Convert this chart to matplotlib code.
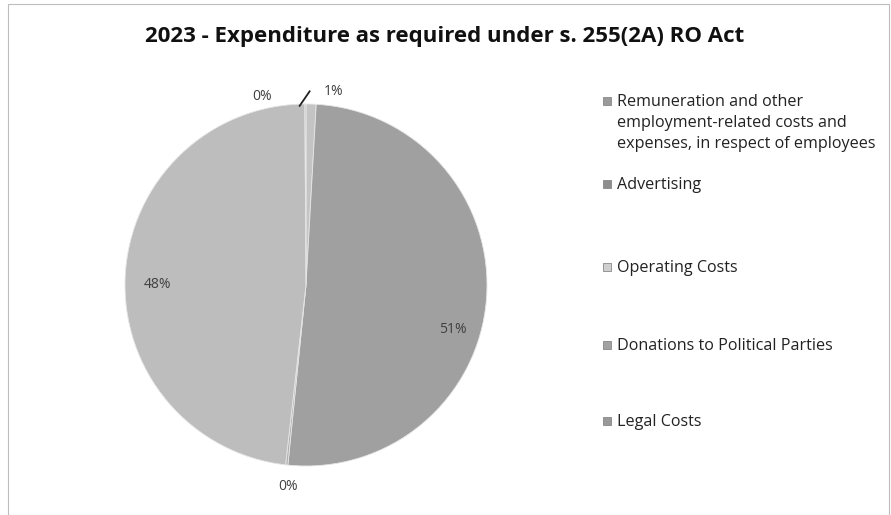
import matplotlib
matplotlib.use("Agg")
import matplotlib.pyplot as plt
from matplotlib.patches import Rectangle
import numpy as np

# ---- data ----
categories = [
    "Remuneration and other\nemployment-related costs and\nexpenses, in respect of employees",
    "Advertising",
    "Operating Costs",
    "Donations to Political Parties",
    "Legal Costs",
]
shares = [0.9, 50.7, 48.1, 0.2, 0.1]          # percent of total
pct_labels = ["1%", "51%", "48%", "0%", "0%"]
# clockwise drawing order of slices (starting at 12 o'clock)
draw_order = [0, 1, 3, 2, 4]
title = "2023 - Expenditure as required under s. 255(2A) RO Act"

# ---- style ----
slice_colors = ["#c4c4c4", "#a0a0a0", "#bdbdbd", "#b0b0b0", "#a8a8a8"]
marker_colors = ["#9a9a9a", "#8e8e8e", "#cfcfcf", "#a2a2a2", "#999999"]
label_pos = {  # (angle deg from 3 o'clock ccw, radius) for each category's percent label
    0: (82, 1.08),
    1: (-17, 0.85),
    2: (180, 0.82),
    3: (265, 1.12),
    4: (103, 1.07),
}

W, H = 891, 515
fig = plt.figure(figsize=(W / 100, H / 100), dpi=100)
fig.patch.set_facecolor("white")
plt.rcParams["font.family"] = ["Open Sans", "DejaVu Sans"]

# outer frame
fig.add_artist(Rectangle((8 / W, 0), (W - 10) / W, (H - 4) / H, transform=fig.transFigure,
                         fill=False, edgecolor="#bdbdbd", linewidth=0.8))

fig.text(445 / W, 1 - 36 / H, title, ha="center", va="center",
         fontsize=16, fontweight="bold", color="#111111")

cx, cy, r = 306, 285, 181
ax = fig.add_axes([(cx - r) / W, 1 - (cy + r) / H, 2 * r / W, 2 * r / H])

vals = [shares[i] for i in draw_order]
cols = [slice_colors[i] for i in draw_order]
ax.pie(vals, colors=cols, startangle=90, counterclock=False, radius=1,
       wedgeprops=dict(edgecolor="#e6e6e6", linewidth=0.6))
ax.set_xlim(-1, 1)
ax.set_ylim(-1, 1)
ax.axis("off")

for i, lab in enumerate(pct_labels):
    ang, rad = label_pos[i]
    x, y = rad * np.cos(np.radians(ang)), rad * np.sin(np.radians(ang))
    ax.text(x, y, lab, ha="center", va="center", fontsize=10, color="#404040", clip_on=False)

# leader line for the 1% slice (slanted, from rim up to label)
ax.plot([-0.035, 0.02], [0.99, 1.07], color="#222222", lw=1.3, clip_on=False)

# legend (drawn manually so the marker aligns with first line)
first_lines = [101, 184, 267, 345, 421]
for i, name in enumerate(categories):
    y = first_lines[i]
    fig.add_artist(Rectangle((603 / W, 1 - (y + 4) / H), 8 / W, 8 / H, transform=fig.transFigure,
                             facecolor=marker_colors[i], edgecolor="#888888", linewidth=0.6))
    fig.text(617 / W, 1 - (y - 7) / H, name, ha="left", va="top", fontsize=11.6,
             color="#222222", linespacing=1.42)

fig.savefig("out.png", dpi=100, facecolor="white")
